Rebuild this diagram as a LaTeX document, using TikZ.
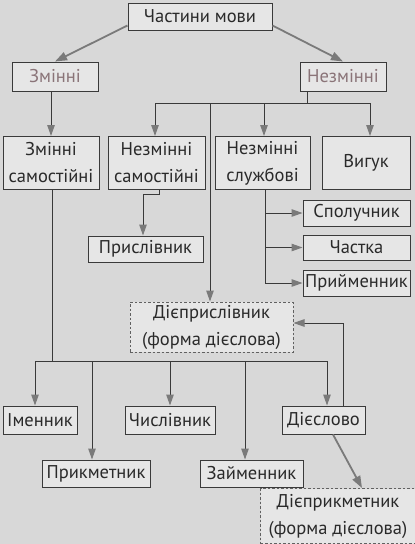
\documentclass[tikz,border=0pt]{standalone}
\usepackage{fontspec}
\setmainfont{PT Sans}
\usetikzlibrary{arrows.meta}
\definecolor{bgc}{HTML}{D8D8D8}
\definecolor{boxc}{HTML}{E6E6E6}
\definecolor{linec}{HTML}{3A3A3A}
\definecolor{arrc}{HTML}{7A7A7A}
\definecolor{txtc}{HTML}{2A2A2A}
\definecolor{pinkc}{HTML}{8A7478}
\tikzset{
  box/.style={draw=linec, line width=1pt, fill=boxc, text=txtc, inner sep=0pt,
    align=center, font=\fontsize{18.5}{27}\selectfont},
  dbox/.style={box, dash pattern=on 2.5pt off 2pt, draw=linec!80},
  conn/.style={draw=linec, line width=1pt},
  arr/.style={conn, -{Triangle[length=11pt,width=7.5pt,color=arrc]}},
  garr/.style={draw=arrc, line width=1.8pt, -{Triangle[length=12pt,width=8.5pt,color=arrc]}},
}
\begin{document}
\begin{tikzpicture}[x=1pt,y=-1pt]
\fill[bgc] (0,0) rectangle (415,544);
\useasboundingbox (0,0) rectangle (415,544);

\node[box, minimum width=144pt, minimum height=27pt] (top) at (200,16.5) {Частини мови};
\node[box, minimum width=86pt, minimum height=29pt, text=pinkc] (zm) at (55,76.5) {Змінні};
\node[box, minimum width=86pt, minimum height=29pt, text=pinkc] (nz) at (343,76.5) {Незмінні};

\node[box, minimum width=96pt, minimum height=53pt] (zs) at (51,163) {Змінні\\самостійні};
\node[box, minimum width=97pt, minimum height=53pt] (ns) at (156.5,163) {Незмінні\\самостійні};
\node[box, minimum width=95pt, minimum height=53pt] (nsl) at (262.5,163) {Незмінні\\службові};
\node[box, minimum width=88pt, minimum height=53pt] (vy) at (366,163) {Вигук};

\node[box, minimum width=115pt, minimum height=26pt] (pr) at (145.5,249) {Прислівник};
\node[box, minimum width=107pt, minimum height=26pt] (sp) at (356.5,213) {Сполучник};
\node[box, minimum width=107pt, minimum height=25pt] (ch) at (356.5,247.5) {Частка};
\node[box, minimum width=107pt, minimum height=26pt] (pry) at (356.5,283) {Прийменник};

\node[dbox, minimum width=163pt, minimum height=50pt] (dp) at (211.5,327) {Дієприслівник\\(форма дієслова)};

\node[box, minimum width=74pt, minimum height=28pt] (im) at (40,420) {Іменник};
\node[box, minimum width=90pt, minimum height=28pt] (chs) at (170,420) {Числівник};
\node[box, minimum width=83pt, minimum height=28pt] (dies) at (323.5,420) {Дієслово};
\node[box, minimum width=108pt, minimum height=27pt] (prk) at (96,473.5) {Прикметник};
\node[box, minimum width=103pt, minimum height=27pt] (zay) at (251.5,473.5) {Займенник};

\node[dbox, minimum width=155pt, minimum height=55pt] (dpk) at (338,516) {Дієприкметник\\(форма дієслова)};

% top level
\draw[garr] ([yshift=5pt]top.south west) -- (zm.north);
\draw[garr] ([yshift=5pt]top.south east) -- (nz.north);

% Змінні -> Змінні самостійні
\draw[arr] (zm.south -| zs.north) -- (zs.north);

% Незмінні bus
\coordinate (nb) at (307,103);
\draw[conn] (307,0 |- nz.south) -- (nb);
\draw[conn] (155,103) -- (370,103);
\draw[arr] (155,103) -- (155,0 |- ns.north);
\draw[arr] (264,103) -- (264,0 |- nsl.north);
\draw[arr] (370,103) -- (370,0 |- vy.north);
\draw[arr] (210,103) -- (210,0 |- dp.north);

% Незмінні самостійні -> Прислівник
\draw[arr] (159,0 |- ns.south) -- (159,194) -- (143,194) -- (143,0 |- pr.north);

% Незмінні службові -> службові частини
\draw[conn] (265,0 |- nsl.south) -- (265,0 |- pry.west);
\draw[arr] (265,0 |- sp.west) -- (sp.west);
\draw[arr] (265,0 |- ch.west) -- (ch.west);
\draw[arr] (265,0 |- pry.west) -- (pry.west);

% Змінні самостійні -> lower bus
\draw[conn] (52,0 |- zs.south) -- (52,361);
\draw[conn] (35,361) -- (327,361);
\draw[arr] (35,361) -- (35,0 |- im.north);
\draw[arr] (92,361) -- (92,0 |- prk.north);
\draw[arr] (170,361) -- (170,0 |- chs.north);
\draw[arr] (245,361) -- (245,0 |- zay.north);
\draw[arr] (327,361) -- (327,0 |- dies.north);

% Дієслово -> Дієприслівник
\draw[arr] (343,0 |- dies.north) -- (343,323) -- (dp.east |- 0,323);
% Дієслово -> Дієприкметник
\draw[garr] (333,0 |- dies.south) -- (362,0 |- dpk.north);
\end{tikzpicture}
\end{document}
